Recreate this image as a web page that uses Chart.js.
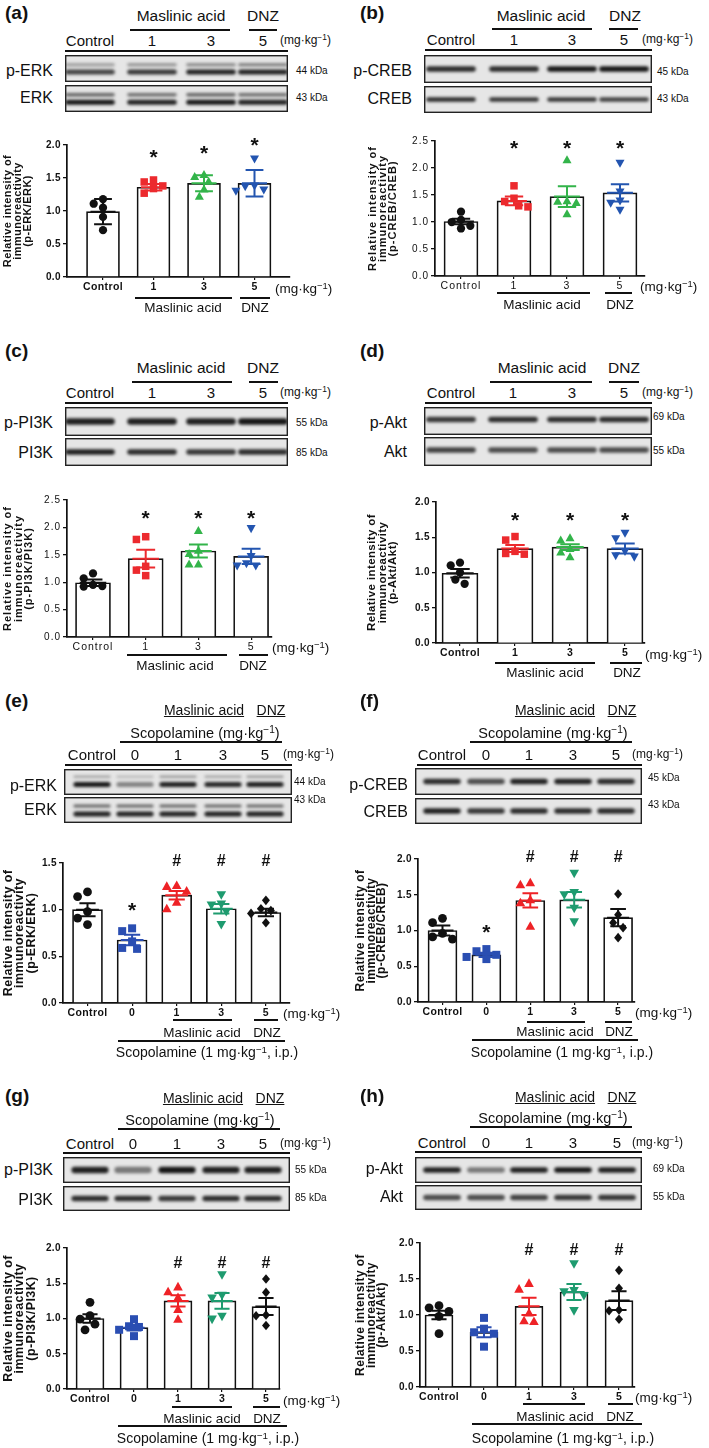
<!DOCTYPE html>
<html>
<head>
<meta charset="utf-8">
<script src="https://cdn.jsdelivr.net/npm/chart.js@4.4.0/dist/chart.umd.min.js"></script>
<style>
  body { margin: 0; background: #fff; }
  #page { position: relative; width: 709px; height: 1448px; overflow: hidden;
          font-family: Arial, "Liberation Sans", Helvetica, sans-serif; color: #111; }
  .t { position: absolute; white-space: nowrap; line-height: 1; }
  .ln { position: absolute; background: #111; }
  canvas.c { position: absolute; }
  sup { font-size: 0.7em; vertical-align: 0; position: relative; top: -0.45em; }
</style>
</head>
<body>
<div id="page"></div>
<script>
// categories
const doseCats = ['Control', '1', '3', '5'];
const scopCats = ['Control', '0', '1', '3', '5'];

// (a) p-ERK/ERK
const meanA = [0.99, 1.36, 1.42, 1.42];
const errA = [0.19, 0.05, 0.12, 0.20];
const ptsA = [[1.18, 1.11, 1.05, 0.91, 0.71], [1.47, 1.44, 1.38, 1.34, 1.27], [1.55, 1.52, 1.45, 1.33, 1.22], [1.79, 1.38, 1.37, 1.32, 1.30]];
const sigA = ['', '*', '*', '*'];
const sigYA = [0, 1.90, 1.95, 2.08];

// (b) p-CREB/CREB
const meanB = [1.01, 1.39, 1.47, 1.54];
const errB = [0.05, 0.08, 0.19, 0.16];
const ptsB = [[1.19, 1.04, 1.00, 0.93, 0.88], [1.67, 1.44, 1.38, 1.30, 1.28], [2.15, 1.39, 1.38, 1.36, 1.15], [2.09, 1.56, 1.39, 1.35, 1.22]];
const sigB = ['', '*', '*', '*'];
const sigYB = [0, 2.46, 2.46, 2.46];

// (c) p-PI3K/PI3K
const meanC = [0.99, 1.43, 1.57, 1.47];
const errC = [0.06, 0.16, 0.12, 0.14];
const ptsC = [[1.16, 1.07, 0.95, 0.93, 0.92], [1.83, 1.78, 1.29, 1.22, 1.12], [1.94, 1.58, 1.52, 1.33, 1.33], [1.98, 1.47, 1.34, 1.30, 1.30]];
const sigC = ['', '*', '*', '*'];
const sigYC = [0, 2.26, 2.26, 2.26];

// (d) p-Akt/Akt
const meanD = [0.99, 1.34, 1.36, 1.34];
const errD = [0.06, 0.05, 0.04, 0.07];
const ptsD = [[1.14, 1.10, 1.00, 0.90, 0.84], [1.51, 1.46, 1.30, 1.27, 1.26], [1.49, 1.46, 1.34, 1.29, 1.22], [1.56, 1.48, 1.30, 1.24, 1.22]];
const sigD = ['', '*', '*', '*'];
const sigYD = [0, 1.82, 1.82, 1.82];

// (e) p-ERK/ERK, scopolamine
const meanE = [1.00, 0.675, 1.155, 1.01, 0.97];
const errE = [0.07, 0.055, 0.045, 0.05, 0.04];
const ptsE = [[1.19, 1.14, 0.98, 0.91, 0.84], [0.80, 0.77, 0.66, 0.59, 0.58], [1.26, 1.25, 1.20, 1.08, 1.01], [1.16, 1.06, 1.05, 0.98, 0.84], [1.10, 1.01, 0.99, 0.96, 0.86]];
const sigE = ['', '*', '#', '#', '#'];
const sigYE = [0, 1.05, 1.53, 1.53, 1.53];

// (f) p-CREB/CREB, scopolamine
const meanF = [1.00, 0.66, 1.42, 1.43, 1.18];
const errF = [0.07, 0.03, 0.10, 0.11, 0.12];
const ptsF = [[1.17, 1.11, 0.96, 0.91, 0.88], [0.74, 0.71, 0.66, 0.63, 0.60], [1.67, 1.64, 1.43, 1.39, 1.06], [1.80, 1.53, 1.50, 1.31, 1.12], [1.51, 1.22, 1.11, 1.04, 0.90]];
const sigF = ['', '*', '#', '#', '#'];
const sigYF = [0, 1.05, 2.04, 2.04, 2.04];

// (g) p-PI3K/PI3K, scopolamine
const meanG = [1.00, 0.87, 1.25, 1.25, 1.17];
const errG = [0.06, 0.04, 0.08, 0.11, 0.12];
const ptsG = [[1.23, 1.04, 0.99, 0.92, 0.84], [0.99, 0.89, 0.88, 0.84, 0.75], [1.45, 1.38, 1.30, 1.13, 0.99], [1.62, 1.33, 1.29, 1.03, 0.99], [1.56, 1.37, 1.05, 1.04, 0.90]];
const sigG = ['', '', '#', '#', '#'];
const sigYG = [0, 0, 1.80, 1.80, 1.80];

// (h) p-Akt/Akt, scopolamine
const meanH = [1.00, 0.76, 1.12, 1.32, 1.20];
const errH = [0.06, 0.07, 0.12, 0.11, 0.13];
const ptsH = [[1.13, 1.10, 1.05, 0.98, 0.74], [0.96, 0.81, 0.76, 0.74, 0.56], [1.44, 1.36, 1.03, 0.92, 0.91], [1.71, 1.34, 1.32, 1.27, 1.06], [1.62, 1.37, 1.07, 1.06, 0.94]];
const sigH = ['', '', '#', '#', '#'];
const sigYH = [0, 0, 1.92, 1.92, 1.92];

const colsAD = ['#111111', '#ec2a2e', '#33b44a', '#2355b0'];
const shapesAD = ['circle', 'square', 'tri', 'triDown'];
const colsEH = ['#111111', '#2a4eb2', '#ee2226', '#1e9b6f', '#111111'];
const shapesEH = ['circle', 'square', 'tri', 'triDown', 'diamond'];

const CF = 'Arial, "Liberation Sans", Helvetica, sans-serif';
Chart.defaults.font.family = CF;
Chart.defaults.color = '#111';

const page = document.getElementById('page');
const MG = '(mg·kg<sup>−1</sup>)';

function txt(x, y, html, o = {}) {
  const d = document.createElement('div');
  d.className = 't';
  d.innerHTML = html;
  const tx = o.align === 'l' ? 0 : o.align === 'r' ? -100 : -50;
  d.style.left = x + 'px';
  d.style.top = y + 'px';
  d.style.fontSize = (o.size || 15) + 'px';
  if (o.bold) d.style.fontWeight = 'bold';
  if (o.u) d.style.textDecoration = 'underline';
  if (o.ls) d.style.letterSpacing = o.ls + 'px';
  d.style.transform = `translate(${tx}%,-50%)`;
  page.appendChild(d);
}

function hl(x1, x2, y, w) {
  w = w || 1.6;
  const d = document.createElement('div');
  d.className = 'ln';
  d.style.left = x1 + 'px';
  d.style.top = (y - w / 2) + 'px';
  d.style.width = (x2 - x1) + 'px';
  d.style.height = w + 'px';
  page.appendChild(d);
}

// western blot strip (picture, not data)
function blot(x0, y0, x1, y1, lanes, bands) {
  const w = x1 - x0, h = y1 - y0;
  const cv = document.createElement('canvas');
  cv.width = w; cv.height = h;
  cv.className = 'c';
  cv.style.left = x0 + 'px'; cv.style.top = y0 + 'px';
  page.appendChild(cv);
  const ctx = cv.getContext('2d');
  ctx.fillStyle = '#e6e6e6';
  ctx.fillRect(0, 0, w, h);
  const sp = (lanes[lanes.length - 1] - lanes[0]) / (lanes.length - 1);
  const bw = sp * 0.86;
  ctx.filter = 'blur(1.5px)';
  bands.forEach(b => lanes.forEach((lx, i) => {
    ctx.fillStyle = `rgba(10,10,10,${b.a[i]})`;
    ctx.beginPath();
    ctx.roundRect(lx - x0 - bw / 2, b.f * h - b.h / 2, bw, b.h, b.h / 2);
    ctx.fill();
  }));
  ctx.filter = 'none';
  ctx.strokeStyle = '#222';
  ctx.lineWidth = 1.4;
  ctx.strokeRect(0.7, 0.7, w - 1.4, h - 1.4);
}

function marker(ctx, shape, x, y, s, col) {
  ctx.fillStyle = col;
  ctx.beginPath();
  if (shape === 'circle') ctx.arc(x, y, s * 0.55, 0, Math.PI * 2);
  else if (shape === 'square') ctx.rect(x - s / 2, y - s / 2, s, s);
  else if (shape === 'tri') { ctx.moveTo(x, y - s * 0.62); ctx.lineTo(x + s * 0.6, y + s * 0.45); ctx.lineTo(x - s * 0.6, y + s * 0.45); }
  else if (shape === 'triDown') { ctx.moveTo(x, y + s * 0.62); ctx.lineTo(x + s * 0.6, y - s * 0.45); ctx.lineTo(x - s * 0.6, y - s * 0.45); }
  else { ctx.moveTo(x, y - s * 0.6); ctx.lineTo(x + s * 0.5, y); ctx.lineTo(x, y + s * 0.6); ctx.lineTo(x - s * 0.5, y); }
  ctx.closePath();
  ctx.fill();
}

function overlay(o) {
  return {
    id: 'overlay',
    beforeDraw(chart) { chart.ctx.letterSpacing = (o.ls || 0.4) + 'px'; },
    afterDatasetsDraw(chart) {
      const ctx = chart.ctx, xs = chart.scales.x, ys = chart.scales.y;
      const s = o.ms || 7.5;
      ctx.save();
      ctx.letterSpacing = '0px';
      o.cats.forEach((c, i) => {
        const cx = xs.getPixelForValue(i);
        // simple swarm so points don't overlap
        const placed = [];
        o.pts[i].map(v => ys.getPixelForValue(v)).sort((a, b) => a - b).forEach(py => {
          for (const k of [0, -1, 1, -2, 2, -3, 3, -4, 4]) {
            const px = cx + k * s * 0.62;
            if (placed.every(p => Math.hypot(p[0] - px, p[1] - py) >= s + 0.5)) { placed.push([px, py]); break; }
          }
        });
        placed.forEach(p => marker(ctx, o.shapes[i], p[0], p[1], s, o.cols[i]));
        // mean ± error
        const bw = o.barW;
        const yt = ys.getPixelForValue(o.mean[i] + o.err[i]);
        const yb = ys.getPixelForValue(o.mean[i] - o.err[i]);
        const ym = ys.getPixelForValue(o.mean[i]);
        ctx.strokeStyle = o.cols[i];
        ctx.lineWidth = 2;
        ctx.beginPath();
        ctx.moveTo(cx, yt); ctx.lineTo(cx, yb);
        ctx.moveTo(cx - bw * 0.27, yt); ctx.lineTo(cx + bw * 0.27, yt);
        ctx.moveTo(cx - bw * 0.27, yb); ctx.lineTo(cx + bw * 0.27, yb);
        ctx.moveTo(cx - bw * 0.38, ym); ctx.lineTo(cx + bw * 0.38, ym);
        ctx.stroke();
        // significance marks
        if (o.sig[i]) {
          const star = o.sig[i] === '*';
          const fs = star ? 21 : 16;
          ctx.fillStyle = '#111';
          ctx.font = `bold ${fs}px ${CF}`;
          ctx.textAlign = 'center';
          ctx.textBaseline = 'alphabetic';
          ctx.fillText(o.sig[i], cx, ys.getPixelForValue(o.sigY[i]) + fs * (star ? 0.57 : 0.36));
        }
      });
      ctx.restore();
    },
    afterDraw(chart) { chart.ctx.letterSpacing = '0px'; }
  };
}

function makeChart(o) {
  const H = 22, padTop = 16, padRight = 4;
  const cv = document.createElement('canvas');
  cv.className = 'c';
  const w = Math.round(o.W + (o.xEnd - o.ax) + padRight);
  const h = Math.round(padTop + (o.y0 - o.yTop) + H);
  cv.width = w; cv.height = h;
  cv.style.left = (o.ax - o.W) + 'px';
  cv.style.top = (o.yTop - padTop) + 'px';
  cv.style.width = w + 'px'; cv.style.height = h + 'px';
  page.appendChild(cv);
  const n = o.cats.length;
  const xmin = -(o.c0 - o.ax) / o.sp;
  const xmax = (n - 1) + (o.xEnd - o.c0 - (n - 1) * o.sp) / o.sp;
  const wt = o.bold ? 'bold' : 'normal';
  new Chart(cv, {
    type: 'bar',
    data: {
      datasets: [{
        data: o.mean.map((m, i) => ({ x: i, y: m })),
        backgroundColor: '#ffffff',
        borderColor: '#111111',
        borderWidth: 1.7,
        barThickness: o.barW
      }]
    },
    options: {
      responsive: false,
      animation: false,
      devicePixelRatio: 1,
      layout: { padding: { top: padTop, right: padRight, left: 0, bottom: 0 } },
      plugins: { legend: { display: false }, tooltip: { enabled: false } },
      scales: {
        x: {
          type: 'linear', min: xmin, max: xmax, offset: false,
          afterFit: s => { s.height = H; },
          afterBuildTicks: s => { s.ticks = o.cats.map((c, i) => ({ value: i })); },
          grid: { display: true, offset: false, drawOnChartArea: false, tickLength: 3, color: '#111', lineWidth: 1.2 },
          border: { display: true, color: '#111', width: 1.7 },
          ticks: { autoSkip: false, maxRotation: 0, padding: 1, color: '#111',
                   font: { size: 10.5, weight: wt }, callback: v => o.cats[v] }
        },
        y: {
          min: 0, max: o.yMax,
          afterFit: s => { s.width = o.W; },
          grid: { display: true, drawOnChartArea: false, tickLength: 4, color: '#111', lineWidth: 1.3 },
          border: { display: true, color: '#111', width: 1.7 },
          ticks: { stepSize: 0.5, padding: 2, color: '#111', font: { size: 10, weight: wt },
                   callback: v => v.toFixed(1) },
          title: { display: true, padding: 0, color: '#111',
                   text: ['Relative intensity of', 'immunoreactivity', o.ratio],
                   font: { size: o.ts, weight: 'bold', lineHeight: o.tlh } }
        }
      }
    },
    plugins: [overlay(o)]
  });
}

function doseHeader(h) {
  txt(h.mx, h.my, 'Maslinic acid', { size: 15.5 });
  hl(h.ml[0], h.ml[1], h.ml[2], 2);
  txt(h.dx, h.my, 'DNZ', { size: 15.5 });
  hl(h.dl[0], h.dl[1], h.ml[2], 2);
  h.lanes.forEach((x, i) => txt(x, h.ry, doseCats[i], { size: 15 }));
  txt(h.mg, h.ry, MG, { align: 'l', size: 12 });
  hl(h.line[0], h.line[1], h.line[2], 2);
}

function scopHeader(h) {
  txt(h.mx, h.my, 'Maslinic acid', { size: 14, u: true });
  txt(h.dx, h.my, 'DNZ', { size: 14, u: true });
  txt(h.sx, h.sy, 'Scopolamine ' + MG, { size: 14.5 });
  hl(h.sl[0], h.sl[1], h.sl[2], 2);
  h.lanes.forEach((x, i) => txt(x, h.ry, scopCats[i], { size: 15 }));
  txt(h.mg, h.ry, MG, { align: 'l', size: 12 });
  hl(h.line[0], h.line[1], h.line[2], 2);
}

function footer(f) {
  txt(f.mg, f.y, MG, { align: 'l', size: 13.5 });
  hl(f.ml[0], f.ml[1], f.ml[2], 1.3);
  hl(f.dl[0], f.dl[1], f.ml[2], 1.3);
  txt(f.mt, f.ty, 'Maslinic acid', { size: 13.5 });
  txt(f.dt, f.ty, 'DNZ', { size: 13.5 });
  if (f.long) {
    hl(f.long[0], f.long[1], f.long[2], 1.3);
    txt(f.st, f.sy, 'Scopolamine (1 mg·kg<sup>−1</sup>, i.p.)', { size: 14 });
  }
}

function rowLabels(xr, kx, rows) {
  rows.forEach(r => {
    txt(xr, r[1], r[0], { align: 'r', size: 16 });
    txt(kx, r[3], r[2], { align: 'l', size: 10 });
  });
}

// ---------- (a) ----------
txt(5, 12, '(a)', { align: 'l', size: 19, bold: true });
doseHeader({ mx: 181, my: 16, ml: [130, 230, 30], dx: 263, dl: [249, 277], lanes: [90, 152, 211, 263], ry: 40, mg: 280, line: [65, 288, 51] });
blot(65, 55, 288, 82, [90, 152, 211, 263], [{ f: 0.36, h: 3, a: [0.35, 0.4, 0.45, 0.5] }, { f: 0.63, h: 5, a: [0.75, 0.8, 0.9, 0.9] }]);
blot(65, 85, 288, 112, [90, 152, 211, 263], [{ f: 0.36, h: 3.5, a: [0.6, 0.55, 0.6, 0.55] }, { f: 0.64, h: 5, a: [0.95, 0.9, 0.95, 0.9] }]);
rowLabels(53, 296, [['p-ERK', 71, '44 kDa', 71], ['ERK', 98, '43 kDa', 98]]);
makeChart({ ax: 67, y0: 277, yTop: 145, xEnd: 290, c0: 103, sp: 50.5, barW: 33, yMax: 2, W: 64, bold: true, ts: 11, tlh: 0.9,
  ratio: '(p-ERK/ERK)', cats: doseCats, mean: meanA, err: errA, pts: ptsA, sig: sigA, sigY: sigYA, cols: colsAD, shapes: shapesAD });
footer({ mg: 275, y: 289, ml: [135, 232, 298], dl: [240, 270], ty: 308, mt: 183, dt: 255 });

// ---------- (b) ----------
txt(360, 12, '(b)', { align: 'l', size: 19, bold: true });
doseHeader({ mx: 541, my: 16, ml: [492, 592, 29], dx: 625, dl: [609, 638], lanes: [451, 514, 572, 624], ry: 39, mg: 642, line: [425, 652, 50] });
blot(424, 55, 652, 83, [451, 514, 572, 624], [{ f: 0.5, h: 5.5, a: [0.85, 0.85, 0.95, 0.95] }]);
blot(424, 86, 652, 113, [451, 514, 572, 624], [{ f: 0.5, h: 4.5, a: [0.85, 0.8, 0.8, 0.75] }]);
rowLabels(412, 657, [['p-CREB', 71, '45 kDa', 72], ['CREB', 99, '43 kDa', 99]]);
makeChart({ ax: 435, y0: 276, yTop: 141, xEnd: 645, c0: 461, sp: 53, barW: 34, yMax: 2.5, W: 67, bold: false, ts: 11, tlh: 0.9, ls: 1,
  ratio: '(p-CREB/CREB)', cats: doseCats, mean: meanB, err: errB, pts: ptsB, sig: sigB, sigY: sigYB, cols: colsAD, shapes: shapesAD });
footer({ mg: 640, y: 287, ml: [497, 590, 293], dl: [605, 632], ty: 305, mt: 542, dt: 620 });

// ---------- (c) ----------
txt(5, 350, '(c)', { align: 'l', size: 19, bold: true });
doseHeader({ mx: 181, my: 368, ml: [132, 232, 382], dx: 263, dl: [249, 278], lanes: [90, 152, 211, 263], ry: 392, mg: 280, line: [65, 288, 403] });
blot(65, 407, 288, 436, [90, 152, 211, 263], [{ f: 0.5, h: 6.5, a: [0.9, 0.9, 0.9, 0.95] }]);
blot(65, 438, 288, 466, [90, 152, 211, 263], [{ f: 0.5, h: 5.5, a: [0.9, 0.85, 0.8, 0.85] }]);
rowLabels(53, 296, [['p-PI3K', 423, '55 kDa', 423], ['PI3K', 453, '85 kDa', 453]]);
makeChart({ ax: 67, y0: 637, yTop: 500, xEnd: 272, c0: 93, sp: 52.7, barW: 35, yMax: 2.5, W: 64, bold: false, ts: 11, tlh: 0.95, ls: 1,
  ratio: '(p-PI3K/PI3K)', cats: doseCats, mean: meanC, err: errC, pts: ptsC, sig: sigC, sigY: sigYC, cols: colsAD, shapes: shapesAD });
footer({ mg: 272, y: 648, ml: [127, 227, 655], dl: [239, 268], ty: 666, mt: 175, dt: 253 });

// ---------- (d) ----------
txt(360, 350, '(d)', { align: 'l', size: 19, bold: true });
doseHeader({ mx: 542, my: 368, ml: [490, 592, 382], dx: 624, dl: [609, 639], lanes: [451, 513, 572, 624], ry: 392, mg: 642, line: [425, 652, 403] });
blot(424, 407, 652, 435, [451, 513, 572, 624], [{ f: 0.45, h: 5.5, a: [0.8, 0.85, 0.85, 0.85] }]);
blot(424, 437, 652, 466, [451, 513, 572, 624], [{ f: 0.45, h: 5.5, a: [0.75, 0.7, 0.7, 0.7] }]);
rowLabels(407, 653, [['p-Akt', 423, '69 kDa', 417], ['Akt', 452, '55 kDa', 451]]);
makeChart({ ax: 436, y0: 643, yTop: 502, xEnd: 645, c0: 460, sp: 55, barW: 36, yMax: 2, W: 69, bold: true, ts: 11.5, tlh: 0.9,
  ratio: '(p-Akt/Akt)', cats: doseCats, mean: meanD, err: errD, pts: ptsD, sig: sigD, sigY: sigYD, cols: colsAD, shapes: shapesAD });
footer({ mg: 645, y: 655, ml: [495, 595, 663], dl: [610, 642], ty: 673, mt: 545, dt: 627 });

// ---------- (e) ----------
txt(5, 700, '(e)', { align: 'l', size: 19, bold: true });
scopHeader({ mx: 204, dx: 271, my: 710, sx: 205, sy: 733, sl: [120, 282, 742], lanes: [92, 135, 178, 223, 265], ry: 754, mg: 283, line: [65, 292, 765] });
blot(64, 769, 292, 795, [92, 135, 178, 223, 265], [{ f: 0.3, h: 2.5, a: [0.3, 0.2, 0.35, 0.3, 0.35] }, { f: 0.6, h: 5, a: [0.95, 0.45, 0.9, 0.88, 0.9] }]);
blot(64, 797, 292, 823, [92, 135, 178, 223, 265], [{ f: 0.35, h: 3, a: [0.6, 0.6, 0.6, 0.6, 0.6] }, { f: 0.65, h: 5, a: [0.9, 0.9, 0.9, 0.9, 0.9] }]);
rowLabels(57, 294, [['p-ERK', 786, '44 kDa', 782], ['ERK', 810, '43 kDa', 800]]);
makeChart({ ax: 63, y0: 1003, yTop: 863, xEnd: 290, c0: 87.5, sp: 44.6, barW: 30, yMax: 1.5, W: 60, bold: true, ts: 12.5, tlh: 0.9, ms: 8,
  ratio: '(p-ERK/ERK)', cats: scopCats, mean: meanE, err: errE, pts: ptsE, sig: sigE, sigY: sigYE, cols: colsEH, shapes: shapesEH });
footer({ mg: 283, y: 1014, ml: [173, 232, 1020], dl: [254, 278], ty: 1033, mt: 202, dt: 267, long: [118, 285, 1041], st: 207, sy: 1052 });

// ---------- (f) ----------
txt(360, 700, '(f)', { align: 'l', size: 19, bold: true });
scopHeader({ mx: 555, dx: 622, my: 710, sx: 553, sy: 733, sl: [470, 632, 742], lanes: [442, 486, 529, 573, 616], ry: 754, mg: 632, line: [417, 642, 765] });
blot(415, 768, 642, 795, [442, 486, 529, 573, 616], [{ f: 0.5, h: 5.5, a: [0.85, 0.7, 0.9, 0.9, 0.85] }]);
blot(415, 798, 642, 824, [442, 486, 529, 573, 616], [{ f: 0.5, h: 5.5, a: [0.9, 0.8, 0.85, 0.85, 0.85] }]);
rowLabels(408, 648, [['p-CREB', 785, '45 kDa', 778], ['CREB', 812, '43 kDa', 805]]);
makeChart({ ax: 418, y0: 1002, yTop: 859, xEnd: 635, c0: 442.5, sp: 43.9, barW: 29, yMax: 2, W: 63, bold: true, ts: 12, tlh: 0.9, ms: 8,
  ratio: '(p-CREB/CREB)', cats: scopCats, mean: meanF, err: errF, pts: ptsF, sig: sigF, sigY: sigYF, cols: colsEH, shapes: shapesEH });
footer({ mg: 635, y: 1013, ml: [527, 585, 1022], dl: [605, 632], ty: 1032, mt: 555, dt: 619, long: [472, 638, 1040], st: 562, sy: 1052 });

// ---------- (g) ----------
txt(5, 1095, '(g)', { align: 'l', size: 19, bold: true });
scopHeader({ mx: 203, dx: 270, my: 1098, sx: 200, sy: 1120, sl: [118, 280, 1129], lanes: [90, 133, 177, 221, 263], ry: 1143, mg: 280, line: [63, 290, 1153] });
blot(63, 1157, 290, 1183, [90, 133, 177, 221, 263], [{ f: 0.5, h: 6.5, a: [0.9, 0.5, 0.95, 0.9, 0.9] }]);
blot(63, 1186, 290, 1211, [90, 133, 177, 221, 263], [{ f: 0.5, h: 5.5, a: [0.85, 0.85, 0.8, 0.85, 0.85] }]);
rowLabels(53, 295, [['p-PI3K', 1170, '55 kDa', 1170], ['PI3K', 1200, '85 kDa', 1198]]);
makeChart({ ax: 67, y0: 1389, yTop: 1248, xEnd: 280, c0: 90, sp: 44, barW: 28, yMax: 2, W: 64, bold: true, ts: 12.5, tlh: 0.9, ms: 8,
  ratio: '(p-PI3K/PI3K)', cats: scopCats, mean: meanG, err: errG, pts: ptsG, sig: sigG, sigY: sigYG, cols: colsEH, shapes: shapesEH });
footer({ mg: 283, y: 1401, ml: [172, 232, 1407], dl: [253, 280], ty: 1419, mt: 202, dt: 267, long: [118, 287, 1426], st: 208, sy: 1438 });

// ---------- (h) ----------
txt(360, 1095, '(h)', { align: 'l', size: 19, bold: true });
scopHeader({ mx: 555, dx: 622, my: 1097, sx: 553, sy: 1118, sl: [470, 632, 1127], lanes: [442, 486, 529, 573, 617], ry: 1142, mg: 632, line: [415, 642, 1152] });
blot(415, 1157, 642, 1183, [442, 486, 529, 573, 617], [{ f: 0.5, h: 5.5, a: [0.9, 0.5, 0.9, 0.95, 0.9] }]);
blot(415, 1185, 642, 1210, [442, 486, 529, 573, 617], [{ f: 0.5, h: 5.5, a: [0.7, 0.7, 0.75, 0.8, 0.8] }]);
rowLabels(403, 653, [['p-Akt', 1169, '69 kDa', 1169], ['Akt', 1197, '55 kDa', 1197]]);
makeChart({ ax: 420, y0: 1387, yTop: 1243, xEnd: 635, c0: 439, sp: 45, barW: 28, yMax: 2, W: 65, bold: true, ts: 12, tlh: 0.9, ms: 8,
  ratio: '(p-Akt/Akt)', cats: scopCats, mean: meanH, err: errH, pts: ptsH, sig: sigH, sigY: sigYH, cols: colsEH, shapes: shapesEH });
footer({ mg: 635, y: 1398, ml: [523, 585, 1404], dl: [608, 633], ty: 1417, mt: 555, dt: 620, long: [472, 642, 1424], st: 563, sy: 1438 });
</script>
</body>
</html>
